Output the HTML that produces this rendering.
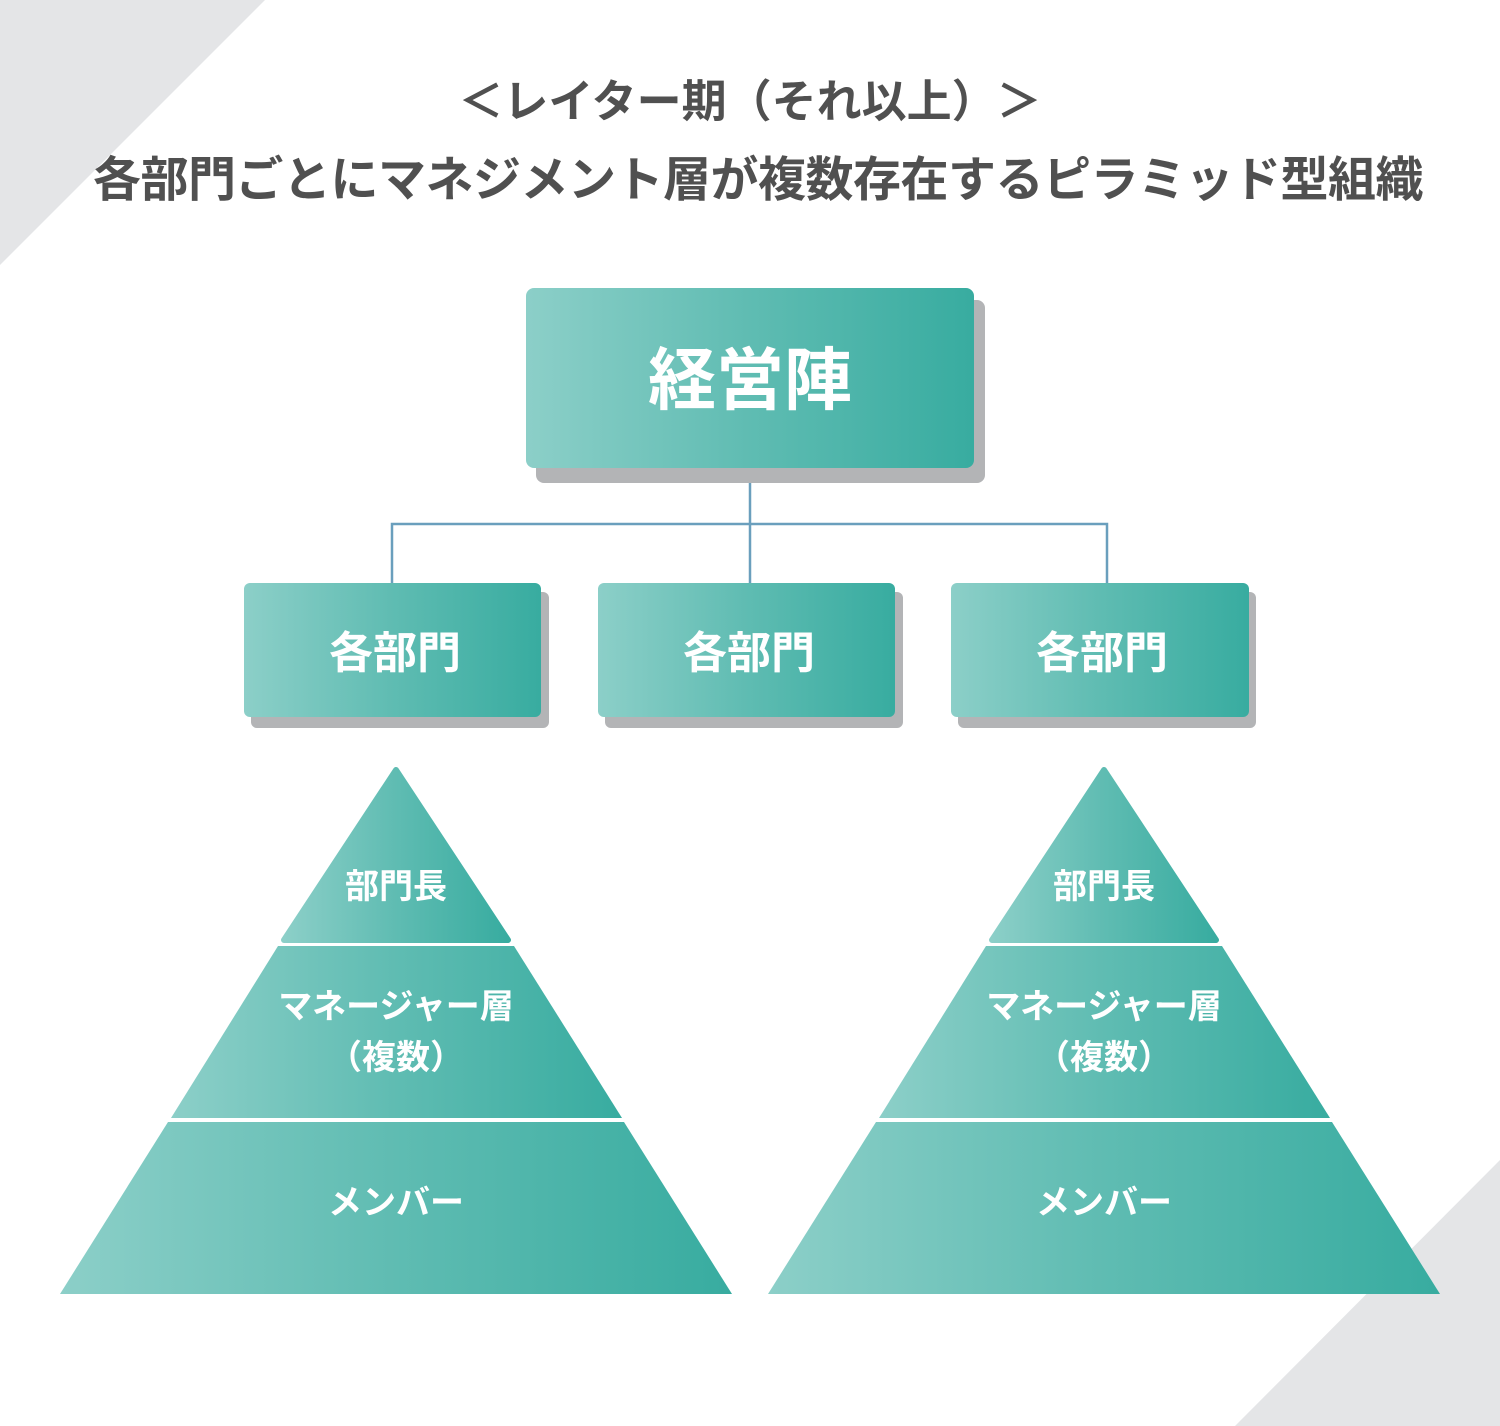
<!DOCTYPE html>
<html><head><meta charset="utf-8"><style>
html,body{margin:0;padding:0;background:#fff;}
body{width:1500px;height:1426px;position:relative;overflow:hidden;font-family:"Liberation Sans","Noto Sans CJK JP",sans-serif;}
</style></head><body>
<svg width="1500" height="1426" viewBox="0 0 1500 1426" xmlns="http://www.w3.org/2000/svg" style="position:absolute;left:0;top:0">
<defs>
<linearGradient id="g" x1="0" y1="0" x2="1" y2="0">
<stop offset="0" stop-color="#8ccfc8"/><stop offset="0.5" stop-color="#5fbcb2"/><stop offset="1" stop-color="#38aca0"/>
</linearGradient>
</defs>
<polygon points="0,0 265,0 0,265" fill="#e4e5e7"/>
<polygon points="1500,1160 1500,1426 1235,1426" fill="#e4e5e7"/>
<g font-weight="bold" fill="#505050" font-family="Liberation Sans, Noto Sans CJK JP, sans-serif" text-anchor="middle">
<text x="750" y="117" font-size="45">＜レイター期（それ以上）＞</text>
<text x="758" y="196" font-size="48" letter-spacing="-0.5">各部門ごとにマネジメント層が複数存在するピラミッド型組織</text>
</g>
<g stroke="#6a9fbd" stroke-width="2.5" fill="none">
<line x1="750" y1="468" x2="750" y2="584"/>
<polyline points="392,584 392,524 1107,524 1107,584"/>
</g>
<rect x="536" y="300" width="449" height="183" rx="8" fill="#b3b4b6"/>
<rect x="526" y="288" width="448" height="180" rx="8" fill="url(#g)"/>
<text x="750" y="404" font-size="68" font-weight="bold" fill="#fff" text-anchor="middle" font-family="Liberation Sans, Noto Sans CJK JP, sans-serif">経営陣</text>
<g font-family="Liberation Sans, Noto Sans CJK JP, sans-serif" font-weight="bold" fill="#fff" text-anchor="middle" font-size="44">
<rect x="251" y="592" width="298" height="136" rx="6" fill="#b3b4b6"/>
<rect x="244" y="583" width="297" height="134" rx="6" fill="url(#g)"/>
<text x="395" y="668">各部門</text>
<rect x="605" y="592" width="298" height="136" rx="6" fill="#b3b4b6"/>
<rect x="598" y="583" width="297" height="134" rx="6" fill="url(#g)"/>
<text x="749" y="668">各部門</text>
<rect x="958" y="592" width="298" height="136" rx="6" fill="#b3b4b6"/>
<rect x="951" y="583" width="298" height="134" rx="6" fill="url(#g)"/>
<text x="1102" y="668">各部門</text>
</g>
<g font-family="Liberation Sans, Noto Sans CJK JP, sans-serif" font-weight="bold" fill="#fff" text-anchor="middle" font-size="34">
<g>
<polygon points="396,770 508,940 284,940" fill="url(#g)" stroke="url(#g)" stroke-linejoin="round" stroke-width="6"/>
<polygon points="514,946 622,1118 171,1118 278,946" fill="url(#g)"/>
<polygon points="624,1122 732,1294 60,1294 168,1122" fill="url(#g)"/>
<text x="396" y="898">部門長</text>
<text x="396" y="1018">マネージャー層</text>
<text x="396" y="1069">（複数）</text>
<text x="396" y="1214">メンバー</text>
</g>
<g transform="translate(708,0)">
<polygon points="396,770 508,940 284,940" fill="url(#g)" stroke="url(#g)" stroke-linejoin="round" stroke-width="6"/>
<polygon points="514,946 622,1118 171,1118 278,946" fill="url(#g)"/>
<polygon points="624,1122 732,1294 60,1294 168,1122" fill="url(#g)"/>
<text x="396" y="898">部門長</text>
<text x="396" y="1018">マネージャー層</text>
<text x="396" y="1069">（複数）</text>
<text x="396" y="1214">メンバー</text>
</g>
</g>
</svg>
</body></html>
